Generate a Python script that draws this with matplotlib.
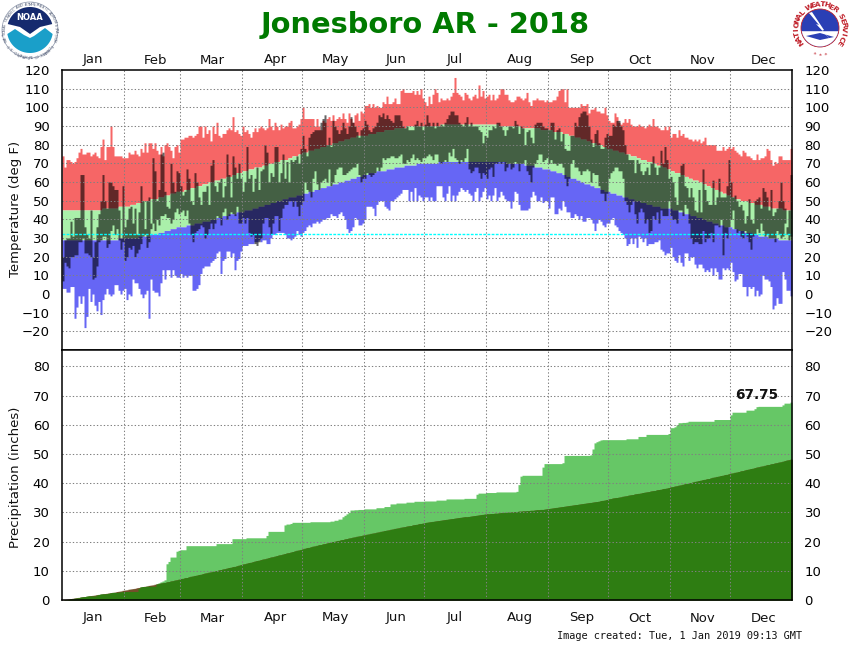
#!/usr/bin/env python3
# Jonesboro AR 2018 climate summary: daily temperature ranges and accumulated precipitation

import numpy as np
import matplotlib
matplotlib.use('Agg')
import matplotlib.pyplot as plt
from matplotlib.patches import Circle, Polygon

month_names = ['Jan', 'Feb', 'Mar', 'Apr', 'May', 'Jun', 'Jul', 'Aug', 'Sep', 'Oct', 'Nov', 'Dec']
month_starts = [31, 59, 90, 120, 151, 181, 212, 243, 273, 304, 334]
month_label_days = [15.5, 47, 75, 106.5, 136.5, 167, 196.5, 229, 260, 289, 320.5, 351]
temp_ticks = [-20, -10, 0, 10, 20, 30, 40, 50, 60, 70, 80, 90, 100, 110, 120]
precip_ticks = [0, 10, 20, 30, 40, 50, 60, 70, 80]

record_high = [
    74,68,72,72,71,70,71,73,76,78,75,75,76,76,74,75,76,74,73,79,83,72,79,79,90,79,74,74,74,74,73,
    73,73,76,75,75,77,75,74,78,76,81,76,81,81,78,81,77,75,79,74,80,81,79,77,73,79,80,76,
    83,83,84,84,85,85,84,85,86,90,90,84,90,86,88,82,90,86,92,85,84,86,86,88,89,88,95,87,88,86,85,
    90,87,88,86,84,87,89,87,89,90,89,88,89,94,90,88,92,90,88,91,89,90,90,92,93,89,89,90,91,94,
    100,94,94,94,94,94,90,94,90,88,93,92,94,95,93,96,93,94,95,94,97,94,92,97,94,92,96,97,93,98,97,
    101,101,102,100,102,100,101,100,100,103,102,106,102,102,103,105,102,102,109,110,108,108,108,108,109,107,109,107,110,105,
    103,101,106,102,107,110,108,103,105,104,104,105,104,106,108,116,108,107,106,104,108,107,105,104,106,107,105,112,106,109,105,
    106,107,104,107,104,105,107,110,110,107,107,104,103,103,104,106,106,105,104,105,108,103,101,104,104,105,104,104,104,103,104,
    103,103,104,104,106,109,110,110,103,110,100,100,100,100,100,100,102,101,101,102,97,99,99,100,98,98,97,97,100,96,
    93,92,92,97,95,92,91,92,94,92,94,91,90,90,90,91,90,90,89,90,91,90,94,90,90,89,88,88,90,88,90,
    84,86,86,84,88,85,86,84,84,83,83,82,83,82,83,81,82,84,80,80,80,80,80,77,77,77,79,77,78,79,
    78,79,77,76,75,74,77,76,74,74,73,72,72,75,72,73,73,74,78,77,72,69,71,70,74,74,72,72,72,72,78,
]
record_low = [
    3,3,1,1,4,4,-13,-7,-1,-5,-1,-18,-12,3,-4,0,-6,-9,-4,-11,-3,0,3,0,-1,0,5,5,2,0,2,
    3,-3,0,-1,8,6,6,3,0,-2,0,2,-13,8,2,1,1,-1,6,13,8,13,13,9,13,10,9,9,
    11,9,10,9,10,10,2,2,3,5,11,14,15,15,15,17,18,19,22,23,11,18,19,23,23,20,22,13,18,19,23,
    26,26,26,27,27,27,28,28,29,28,29,29,27,27,30,32,32,33,33,33,33,32,30,30,29,30,31,34,32,31,
    33,34,36,37,36,38,38,39,38,39,40,40,41,41,43,42,42,41,43,44,42,40,35,33,34,36,41,40,37,37,38,
    40,47,47,47,46,42,48,50,50,50,47,46,45,50,50,51,52,53,54,56,56,56,50,55,50,57,50,53,52,50,
    52,52,50,52,50,50,58,58,58,52,50,54,58,50,53,50,53,55,57,56,55,56,54,53,50,55,57,50,52,55,57,
    51,53,50,53,57,50,52,55,53,51,50,50,46,50,55,54,48,45,45,45,45,46,52,55,53,50,50,52,49,50,50,
    46,52,52,43,43,46,45,50,47,44,44,41,41,43,42,40,42,39,39,41,41,40,38,34,38,40,39,37,36,38,
    38,40,41,37,36,34,33,32,30,26,27,30,27,30,25,31,30,28,30,26,27,27,27,28,28,29,24,23,21,22,22,
    25,20,18,17,21,17,15,22,22,18,20,20,16,14,16,16,14,12,13,12,14,10,14,12,8,8,14,13,14,13,
    17,12,7,8,11,11,4,4,-1,4,3,4,-1,2,-1,0,10,8,8,7,4,-8,-6,-2,-5,-5,12,8,2,2,-1,
]
normal_high = [
    45,45,45,45,45,45,45,45,45,45,45,45,45,45,45,45,45,45,45,45,46,46,46,46,46,46,46,46,47,47,47,
    47,47,47,48,48,48,49,49,49,50,50,50,50,51,51,51,51,52,52,52,53,53,53,54,54,54,55,55,
    55,55,56,56,56,57,57,57,58,58,58,59,59,59,60,60,60,61,61,61,62,62,62,63,63,63,64,64,65,65,65,
    66,66,66,67,67,67,68,68,68,68,69,69,69,70,70,70,71,71,71,72,72,72,72,73,73,74,74,74,75,75,
    76,76,76,77,77,77,78,78,78,79,79,79,80,80,80,81,81,81,82,82,82,83,83,83,84,84,84,85,85,85,85,
    85,85,86,86,86,86,87,87,87,87,88,88,88,88,88,89,89,89,89,89,89,90,90,90,90,90,90,90,90,90,
    90,90,90,90,90,90,90,90,91,91,91,91,91,91,91,91,91,91,91,91,91,91,91,91,91,91,91,91,91,91,91,
    91,91,91,91,91,91,90,90,90,90,90,90,90,90,90,90,90,89,89,89,89,89,89,89,89,89,89,88,88,88,88,
    88,88,87,87,87,87,87,86,86,86,85,85,85,84,84,84,83,83,83,82,82,81,81,81,80,80,80,79,79,78,
    78,78,77,77,77,76,76,76,75,75,75,74,74,74,73,73,72,72,72,71,71,71,70,70,69,69,69,68,68,67,67,
    66,66,65,65,65,64,64,63,63,62,62,61,61,61,60,60,59,59,58,58,57,57,56,56,55,55,54,54,53,53,
    52,52,51,51,51,50,50,50,50,49,49,49,48,48,48,48,47,47,47,47,46,46,46,46,46,46,45,45,45,45,45,
]
normal_low = [
    29,29,29,29,29,29,29,29,29,29,29,29,29,29,29,29,29,29,29,29,29,29,29,29,29,29,29,29,30,30,30,
    30,30,30,30,30,30,30,31,31,31,31,31,31,32,32,32,32,33,33,33,34,34,34,35,35,35,36,36,
    36,36,36,37,37,37,37,38,38,38,38,39,39,39,39,40,40,40,41,41,41,42,42,42,43,43,43,43,44,44,44,
    44,45,45,45,45,46,46,46,47,47,47,48,48,48,49,49,49,50,50,50,51,51,51,52,52,52,52,53,53,53,
    54,54,54,55,55,55,56,56,56,57,57,57,58,58,58,59,59,59,60,60,60,61,61,61,62,62,62,63,63,63,64,
    64,64,65,65,65,65,66,66,66,66,66,67,67,67,67,68,68,68,68,68,69,69,69,69,69,69,70,70,70,70,
    70,70,70,70,70,70,70,71,71,71,71,71,71,71,71,71,71,71,71,71,71,71,71,71,71,71,71,71,71,71,71,
    71,71,71,71,71,71,71,71,71,71,70,70,70,70,70,70,70,70,70,69,69,69,69,69,68,68,68,68,67,67,67,
    67,66,66,66,65,65,65,64,64,63,63,62,62,62,61,61,60,60,59,59,59,58,58,57,57,57,56,56,55,55,
    55,54,54,54,53,53,53,52,52,52,51,51,51,50,50,50,49,49,49,48,48,48,47,47,47,47,46,46,46,46,46,
    46,45,45,45,44,44,44,43,43,43,42,42,42,41,41,41,40,40,39,39,39,38,38,38,37,37,37,36,36,36,
    36,35,35,35,34,34,34,33,33,33,33,32,32,32,31,31,31,31,31,30,30,30,30,30,29,29,29,29,29,29,29,
]
observed_high = [
    20,29,30,30,39,31,41,41,41,64,64,36,32,30,45,20,28,36,43,50,64,50,46,60,60,58,56,56,45,30,58,
    36,40,46,47,38,46,32,44,58,50,35,50,52,38,73,66,50,56,75,76,55,47,46,70,60,55,66,65,
    58,53,55,67,62,50,48,65,60,52,48,55,55,58,48,69,72,58,55,60,62,52,58,75,64,52,74,68,62,70,62,
    55,60,79,62,64,55,62,68,56,66,67,80,76,60,65,63,79,79,60,65,75,62,71,60,72,71,72,74,70,78,
    85,78,74,84,86,87,88,88,88,92,94,96,80,84,79,93,90,88,86,88,92,89,86,90,95,92,90,87,84,88,89,
    93,91,88,87,89,90,92,96,95,97,94,96,94,93,92,96,96,96,93,90,89,90,88,88,88,91,93,90,92,88,
    91,96,92,90,92,89,92,90,91,90,92,94,96,98,98,96,96,92,91,90,92,95,90,92,90,90,90,88,87,81,85,
    84,88,88,90,89,92,92,90,88,85,88,90,90,89,93,91,86,90,89,80,87,88,84,81,91,92,92,92,90,89,89,
    88,92,92,83,88,89,82,86,78,77,77,85,85,92,90,95,97,98,98,96,90,83,79,86,88,81,78,78,84,86,
    85,85,91,90,93,93,90,88,80,75,72,72,72,65,72,70,66,64,66,68,64,70,74,68,64,68,77,70,79,72,62,
    63,60,52,48,63,69,70,58,57,52,57,52,45,44,56,44,67,56,50,48,48,61,48,52,62,52,52,52,58,72,
    60,52,53,50,47,48,45,38,42,51,40,38,50,51,52,46,57,55,52,45,56,42,44,46,50,60,50,46,36,45,64,
]
observed_low = [
    7,17,15,14,20,20,21,21,28,28,30,22,22,21,20,8,9,15,28,29,31,31,25,27,34,37,32,35,29,24,28,
    18,20,25,24,26,20,22,24,27,31,32,25,28,35,38,34,40,37,42,42,43,41,41,38,40,44,46,43,
    44,45,42,45,38,32,28,33,34,35,37,36,30,32,35,38,35,38,42,41,37,44,46,40,42,44,43,42,47,38,38,
    41,38,41,33,31,32,27,26,28,30,38,41,41,36,32,38,42,42,34,41,46,48,48,50,50,47,50,47,42,48,
    50,60,56,55,52,62,66,59,56,60,61,62,60,67,58,60,64,67,68,68,64,64,65,66,67,68,68,70,64,60,62,
    62,65,64,63,64,65,68,66,68,73,72,73,73,74,74,73,73,74,75,70,70,72,71,73,75,72,73,72,71,73,
    73,74,75,74,72,75,75,71,70,71,72,71,76,74,78,73,72,70,72,71,73,78,67,65,66,68,68,65,62,65,64,
    62,67,68,63,70,70,71,70,71,66,68,70,67,68,71,70,66,70,70,72,66,64,60,68,70,72,75,75,71,72,73,
    70,72,70,70,69,70,70,68,62,58,62,70,72,68,68,66,64,66,66,67,66,60,65,64,64,58,54,54,50,54,
    62,65,66,68,68,66,66,62,50,48,44,48,50,43,38,44,46,44,38,40,33,34,42,40,44,38,45,42,42,42,50,
    42,40,40,38,45,45,42,48,46,38,30,27,28,28,27,27,34,28,30,30,33,28,37,37,36,40,21,33,30,36,
    40,45,35,33,34,31,30,34,31,28,24,31,32,35,33,38,34,31,32,30,30,30,28,34,32,30,31,38,32,29,31,
]
freezing = 32

precip_observed = [
    0.0,0.1,0.1,0.2,0.4,0.5,0.6,0.7,0.8,1.0,1.1,1.2,1.3,1.4,1.4,1.4,1.4,1.7,1.9,2.1,2.1,2.1,2.2,2.3,2.5,2.6,2.6,2.6,2.7,2.8,2.9,
    2.9,2.9,2.9,2.9,2.9,2.9,2.9,4.0,4.6,4.6,4.6,4.7,4.7,4.7,4.7,4.7,5.5,5.9,6.2,6.5,6.9,12.4,13.2,14.7,14.7,14.7,16.7,17.0,
    17.2,17.2,17.2,18.6,18.6,18.6,18.6,18.6,18.6,18.6,18.6,18.6,18.6,18.6,18.6,18.6,18.6,18.6,19.3,19.3,19.3,19.3,19.3,19.3,19.3,19.3,21.0,21.0,21.0,21.0,21.0,
    21.0,21.0,21.3,21.3,21.3,21.3,21.3,21.3,21.3,21.3,21.3,21.3,22.1,23.5,23.5,23.5,23.5,23.5,23.5,23.5,23.5,25.7,26.0,26.0,26.2,26.6,26.6,26.6,26.6,26.6,
    26.6,26.6,26.6,26.6,26.8,26.8,26.8,26.8,26.8,26.8,26.8,26.8,26.8,26.8,27.0,27.0,27.3,27.3,27.7,27.7,28.5,29.0,29.5,30.0,30.8,30.8,30.9,30.9,31.0,31.0,31.0,
    31.2,31.2,31.2,31.2,31.2,31.2,31.6,31.6,31.6,31.6,32.0,32.0,32.0,32.9,32.9,32.9,33.2,33.2,33.2,33.2,33.2,33.5,33.5,33.5,33.5,33.8,33.8,33.8,33.8,33.8,
    33.9,33.9,33.9,33.9,33.9,33.9,34.2,34.2,34.2,34.2,34.2,34.6,34.6,34.6,34.6,34.6,34.6,34.6,34.6,34.6,34.8,34.8,34.8,34.8,34.8,34.8,36.2,36.6,36.6,36.6,36.6,
    36.8,36.8,36.8,36.8,36.8,37.0,37.0,37.0,37.0,37.0,37.0,37.0,37.0,37.0,37.0,37.2,39.5,42.4,42.7,42.7,42.7,42.7,42.7,42.7,42.7,42.7,42.7,42.7,45.5,46.7,46.7,
    46.7,46.7,46.7,46.7,46.7,46.7,46.7,47.0,49.5,49.5,49.5,49.5,49.5,49.5,49.5,49.5,49.5,49.5,49.5,49.5,49.5,49.7,51.7,53.8,54.2,54.5,54.8,54.9,54.9,54.9,
    54.9,54.9,54.9,54.9,54.9,54.9,54.9,54.9,54.9,55.2,55.2,55.2,55.2,55.2,55.2,56.0,56.0,56.0,56.0,56.7,56.7,56.7,56.7,56.7,56.7,56.7,56.7,56.7,56.7,56.7,57.0,
    59.0,59.0,59.3,60.0,60.7,60.7,60.8,60.8,60.9,61.2,61.2,61.2,61.2,61.2,61.2,61.2,61.2,61.2,61.2,61.2,61.2,61.2,61.8,61.8,61.8,61.8,61.8,61.8,61.8,61.8,
    63.4,64.3,64.3,64.3,64.3,64.3,64.3,64.3,65.0,65.0,65.0,65.0,65.5,66.2,66.3,66.3,66.3,66.3,66.3,66.3,66.3,66.3,66.3,66.3,66.3,66.3,66.8,67.4,67.4,67.4,67.75,
]
precip_normal = [
    0.1,0.2,0.3,0.4,0.5,0.6,0.7,0.8,0.9,1.0,1.1,1.2,1.3,1.4,1.5,1.6,1.7,1.8,1.9,2.0,2.1,2.2,2.3,2.4,2.5,2.6,2.7,2.9,3.0,3.1,3.3,
    3.4,3.5,3.7,3.8,3.9,4.0,4.2,4.3,4.4,4.6,4.7,4.8,5.0,5.1,5.2,5.4,5.5,5.6,5.8,5.9,6.0,6.2,6.3,6.5,6.6,6.8,6.9,7.1,
    7.3,7.4,7.6,7.7,7.9,8.1,8.2,8.4,8.5,8.7,8.8,9.0,9.2,9.3,9.5,9.6,9.8,9.9,10.1,10.3,10.4,10.6,10.7,10.9,11.1,11.2,11.4,11.5,11.7,11.9,12.1,
    12.3,12.4,12.6,12.8,12.9,13.1,13.3,13.5,13.6,13.8,14.0,14.1,14.3,14.5,14.7,14.8,15.0,15.2,15.4,15.5,15.7,15.9,16.1,16.2,16.4,16.6,16.8,17.0,17.1,17.3,
    17.5,17.7,17.9,18.0,18.2,18.4,18.5,18.7,18.9,19.0,19.2,19.3,19.5,19.7,19.8,20.0,20.1,20.3,20.4,20.6,20.7,20.9,21.0,21.2,21.3,21.5,21.6,21.8,21.9,22.0,22.2,
    22.3,22.5,22.6,22.8,22.9,23.0,23.2,23.3,23.5,23.6,23.8,23.9,24.0,24.2,24.3,24.5,24.6,24.7,24.9,25.0,25.1,25.3,25.4,25.5,25.7,25.8,25.9,26.1,26.2,26.3,
    26.5,26.6,26.7,26.8,26.9,27.0,27.1,27.2,27.3,27.4,27.5,27.6,27.7,27.8,27.9,28.0,28.1,28.2,28.3,28.4,28.5,28.5,28.6,28.7,28.8,28.9,29.0,29.1,29.2,29.3,29.4,
    29.5,29.5,29.6,29.6,29.7,29.7,29.8,29.9,29.9,30.0,30.0,30.1,30.1,30.2,30.2,30.3,30.4,30.4,30.5,30.5,30.6,30.6,30.7,30.7,30.8,30.9,30.9,31.0,31.0,31.1,31.2,
    31.3,31.4,31.5,31.6,31.7,31.8,31.9,32.0,32.1,32.2,32.3,32.4,32.5,32.6,32.7,32.8,32.9,33.0,33.1,33.2,33.3,33.4,33.5,33.6,33.7,33.8,34.0,34.1,34.2,34.4,
    34.6,34.7,34.9,35.0,35.1,35.2,35.3,35.5,35.6,35.7,35.9,36.0,36.1,36.3,36.4,36.5,36.6,36.8,36.9,37.0,37.1,37.3,37.4,37.5,37.7,37.8,37.9,38.1,38.2,38.3,38.5,
    38.7,38.8,39.0,39.1,39.3,39.4,39.6,39.8,39.9,40.1,40.2,40.4,40.6,40.7,40.9,41.0,41.2,41.3,41.5,41.6,41.8,42.0,42.1,42.3,42.4,42.6,42.7,42.9,43.0,43.2,
    43.4,43.5,43.7,43.8,44.0,44.2,44.3,44.5,44.7,44.8,45.0,45.1,45.3,45.5,45.6,45.8,45.9,46.1,46.3,46.4,46.6,46.7,46.9,47.0,47.2,47.3,47.5,47.7,47.9,48.0,48.2,
]

RED = '#f66666'
GREEN = '#aaf0aa'
BLUE = '#6666f5'
LIGHT_GREEN = '#66c766'
DARK_GREEN = '#2e7d12'
BROWN = '#734f2a'
GRID = '#808080'
W, H = 850, 650


def panel(left, top, right, bottom):
    return [left / W, 1 - bottom / H, (right - left) / W, (bottom - top) / H]


def day_bars(ax, lo, hi, color, alpha=None):
    # one stepped polygon per layer, two image pixels per day, so no seams between days
    lo = np.append(np.asarray(lo, dtype=float), lo[-1])
    hi = np.append(np.asarray(hi, dtype=float), hi[-1])
    ax.fill_between(edges, lo, hi, step='post', color=color, alpha=alpha,
                    linewidth=0, antialiased=False, zorder=2)


def style_panel(ax, ticks):
    ax.set_xlim(0, 365)
    ax.set_xticks([])
    ax.set_yticks(ticks)
    ax.tick_params(axis='y', length=0, pad=9, labelsize=9.5, labelleft=True, labelright=True)
    for t in ticks:
        if t != 0 and t != 120:
            ax.axhline(t, color=GRID, lw=0.75, ls=(0, (1.3, 2)), zorder=4)
    for m in month_starts:
        ax.axvline(m, color=GRID, lw=0.75, ls=(0, (1.3, 2)), zorder=4)
    for s in ax.spines.values():
        s.set_linewidth(1.1)
        s.set_zorder(6)


def arc_text(ax, text, cx, cy, r, start, end, **kw):
    # one rotated letter at a time round the seal, angles in degrees
    n = len(text)
    for i, ch in enumerate(text):
        a = start + (end - start) * (i + 0.5) / n
        ax.text(cx + r * np.cos(np.radians(a)), cy - r * np.sin(np.radians(a)), ch,
                rotation=a - 90, ha='center', va='center', **kw)


def noaa_seal(ax, cx, cy):
    ax.add_patch(Circle((cx, cy), 28, fc='white', ec='#8a94a8', lw=0.5))
    arc_text(ax, 'NATIONAL OCEANIC AND ATMOSPHERIC ADMINISTRATION', cx, cy, 25.5, 205, -25,
             fontsize=2.6, color='#4a5570')
    arc_text(ax, 'U.S. DEPARTMENT OF COMMERCE', cx, cy, 25.5, 215, 325,
             fontsize=2.4, color='#4a5570')
    t = np.radians(np.linspace(15, 165, 50))
    top = [(cx + 23 * np.cos(a), cy - 23 * np.sin(a)) for a in t]
    ax.add_patch(Polygon(top + [(cx - 10, cy - 3), (cx, cy + 4), (cx + 10, cy - 3)], fc='#152a6e', lw=0))
    t = np.radians(np.linspace(190, 350, 50))
    low = [(cx + 23 * np.cos(a), cy - 23 * np.sin(a)) for a in t]
    ax.add_patch(Polygon(low + [(cx + 15, cy - 2), (cx + 4, cy + 6), (cx, cy + 8), (cx - 6, cy + 5), (cx - 15, cy - 1)],
                         fc='#1a9fc9', lw=0))
    ax.text(cx, cy - 12, 'NOAA', color='white', fontsize=6, fontweight='bold', ha='center', va='center')


def nws_seal(ax, cx, cy):
    ax.add_patch(Circle((cx, cy), 19, fc='#2a3fb5', ec='#c0202a', lw=0.6))
    t = np.radians(np.linspace(190, 350, 30))
    ax.add_patch(Polygon([(cx + 18.5 * np.cos(a), cy - 18.5 * np.sin(a)) for a in t], fc='white', lw=0))
    ax.add_patch(Polygon([(cx - 14, cy + 8), (cx, cy + 5), (cx + 14, cy + 9), (cx, cy + 12)], fc='#2a3fb5', lw=0))
    ax.add_patch(Polygon([(cx - 11, cy - 15), (cx - 1, cy - 3), (cx - 4, cy - 4), (cx + 12, cy + 13),
                          (cx + 2, cy + 3), (cx + 4, cy + 2), (cx - 8, cy - 16)], fc='white', lw=0))
    arc_text(ax, 'NATIONAL WEATHER SERVICE', cx, cy, 23.5, 222, -42,
             fontsize=5.4, fontweight='bold', color='#c0202a')
    arc_text(ax, '***', cx, cy, 23.5, 252, 288, fontsize=4.5, color='#c0202a')


edges = np.arange(len(record_high) + 1)
no_rain = [0.0] * len(record_high)

fig = plt.figure(figsize=(8.5, 6.5), dpi=100, facecolor='white')

ax_temp = fig.add_axes(panel(62, 70, 792, 350))
day_bars(ax_temp, normal_high, record_high, RED)
day_bars(ax_temp, normal_low, normal_high, GREEN)
day_bars(ax_temp, record_low, normal_low, BLUE)
day_bars(ax_temp, observed_low, observed_high, 'black', alpha=0.6)
style_panel(ax_temp, temp_ticks)
ax_temp.set_ylim(-30, 120)
ax_temp.axhline(freezing, color='#00ffff', lw=1.0, ls=(0, (2, 1)), zorder=5)

ax_rain = fig.add_axes(panel(62, 350, 792, 600))
day_bars(ax_rain, no_rain, precip_observed, LIGHT_GREEN)
day_bars(ax_rain, no_rain, precip_normal, BROWN)
day_bars(ax_rain, no_rain, np.minimum(precip_normal, precip_observed), DARK_GREEN)
style_panel(ax_rain, precip_ticks)
ax_rain.set_ylim(0, 85.6)

# page furniture goes on one overlay working in image pixels
ov = fig.add_axes([0, 0, 1, 1], zorder=10)
ov.set_xlim(0, W)
ov.set_ylim(H, 0)
ov.axis('off')

ov.text(425, 25, 'Jonesboro AR - 2018', color='#007a00', fontsize=20.8, fontweight='bold',
        ha='center', va='center')
for name, d in zip(month_names, month_label_days):
    ov.text(62 + 2 * d, 60, name, fontsize=9.5, ha='center', va='center', color='#111111')
    ov.text(62 + 2 * d, 618, name, fontsize=9.5, ha='center', va='center', color='#111111')
ov.text(16, 209, 'Temperature (deg F)', rotation=90, fontsize=9.5, ha='center', va='center', color='#111111')
ov.text(16, 477, 'Precipitation (inches)', rotation=90, fontsize=9.5, ha='center', va='center', color='#111111')
ov.text(778, 395, '%.2f' % precip_observed[-1], fontsize=9.8, fontweight='bold', ha='right', va='center', color='#111111')
ov.text(802, 636, 'Image created: Tue, 1 Jan 2019 09:13 GMT', fontsize=7.4, family='DejaVu Sans Mono',
        ha='right', va='center', color='#111111')

noaa_seal(ov, 30, 30)
nws_seal(ov, 820, 28)

fig.savefig('out.png', dpi=100)
